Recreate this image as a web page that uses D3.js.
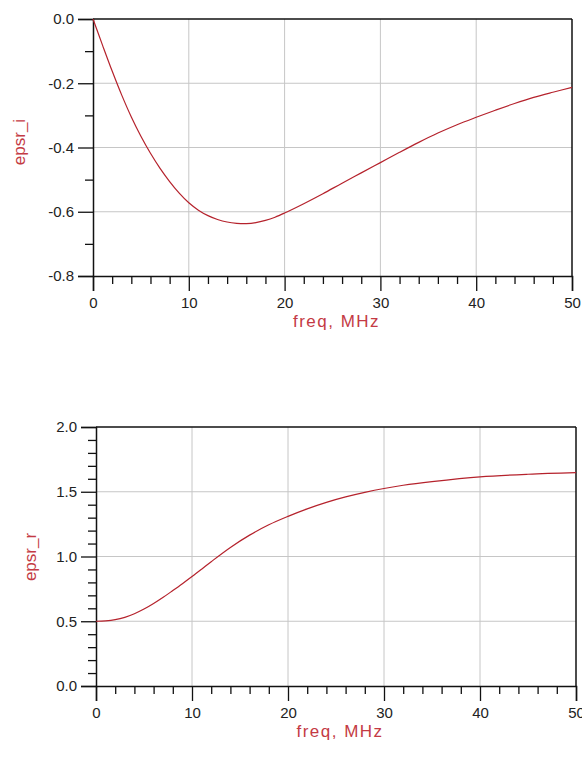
<!DOCTYPE html>
<html>
<head>
<meta charset="utf-8">
<script src="https://cdn.jsdelivr.net/npm/d3@7"></script>
<style>
  html, body { margin: 0; padding: 0; background: #fff; }
  svg { display: block; }
  .tick text { font-family: "Liberation Sans", Arial, sans-serif; font-size: 15px; fill: #222; }
</style>
</head>
<body>
<svg id="chart" width="582" height="764"></svg>
<script>
// ---- data ----
const freqI = [0,1,2,3,4,5,6,7,8,9,10,11,12,13,14,15,16,17,18,19,20,22,24,26,28,30,32,34,36,38,40,42,44,46,48,50];
const epsrI = [0,-0.082,-0.162,-0.237,-0.305,-0.365,-0.418,-0.465,-0.506,-0.542,-0.572,-0.595,-0.612,-0.624,-0.632,-0.636,-0.637,-0.634,-0.627,-0.617,-0.604,-0.575,-0.544,-0.511,-0.479,-0.447,-0.415,-0.384,-0.355,-0.329,-0.306,-0.284,-0.263,-0.244,-0.228,-0.213];

const freqR = [0,1,2,3,4,5,6,7,8,9,10,11,12,14,16,18,20,22,24,26,28,30,32,35,40,45,50];
const epsrR = [0.5,0.503,0.512,0.53,0.558,0.594,0.637,0.685,0.737,0.79,0.845,0.902,0.96,1.07,1.165,1.245,1.31,1.368,1.418,1.46,1.495,1.525,1.55,1.578,1.615,1.635,1.647];

const xMajorTicks = [0,10,20,30,40,50];
const xMinorTicks = [2,4,6,8,12,14,16,18,22,24,26,28,32,34,36,38,42,44,46,48];
const yMajorTicksI = [0,-0.2,-0.4,-0.6,-0.8];
const yMinorTicksI = [-0.1,-0.3,-0.5,-0.7];
const yMajorTicksR = [0,0.5,1.0,1.5,2.0];
const yMinorTicksR = [0.1,0.2,0.3,0.4,0.6,0.7,0.8,0.9,1.1,1.2,1.3,1.4,1.6,1.7,1.8,1.9];

const xTitle = "freq, MHz";
const yTitleI = "epsr_i";
const yTitleR = "epsr_r";

// ---- drawing ----
const svg = d3.select("#chart");
const LINE = "#b5222c";
const TITLE = "#c43a44";
const GRID = "#c6c6c6";
const fmtY = d => (Math.abs(d) < 1e-9 ? 0 : d).toFixed(1);

function panel(cfg) {
  const x = d3.scaleLinear().domain([0, 50]).range([cfg.left, cfg.right]);
  const y = d3.scaleLinear().domain(cfg.yDomain).range([cfg.bottom, cfg.top]);
  const g = svg.append("g");

  // grid
  g.append("g").selectAll("line").data(xMajorTicks.slice(1, -1)).join("line")
    .attr("x1", d => x(d)).attr("x2", d => x(d))
    .attr("y1", cfg.top).attr("y2", cfg.bottom)
    .attr("stroke", GRID).attr("stroke-width", 1);
  g.append("g").selectAll("line").data(cfg.yMajor.filter(v => v !== cfg.yDomain[0] && v !== cfg.yDomain[1])).join("line")
    .attr("x1", cfg.left).attr("x2", cfg.right)
    .attr("y1", d => y(d)).attr("y2", d => y(d))
    .attr("stroke", GRID).attr("stroke-width", 1);

  // frame (top and right)
  g.append("line").attr("x1", cfg.left).attr("x2", cfg.right).attr("y1", cfg.top).attr("y2", cfg.top)
    .attr("stroke", "#111").attr("stroke-width", 1.5);
  g.append("line").attr("x1", cfg.right).attr("x2", cfg.right).attr("y1", cfg.top).attr("y2", cfg.bottom)
    .attr("stroke", "#111").attr("stroke-width", 1.5);

  // x axis
  const xa = g.append("g").attr("transform", `translate(0,${cfg.bottom})`)
    .call(d3.axisBottom(x).tickValues(xMajorTicks).tickSize(15).tickPadding(6).tickFormat(d3.format("d")));
  g.append("g").attr("transform", `translate(0,${cfg.bottom})`)
    .call(d3.axisBottom(x).tickValues(xMinorTicks).tickSize(8).tickFormat(""))
    .call(s => s.select(".domain").remove());
  // y axis
  g.append("g").attr("transform", `translate(${cfg.left},0)`)
    .call(d3.axisLeft(y).tickValues(cfg.yMajor).tickSize(15).tickPadding(4).tickFormat(fmtY));
  g.append("g").attr("transform", `translate(${cfg.left},0)`)
    .call(d3.axisLeft(y).tickValues(cfg.yMinor).tickSize(8).tickFormat(""))
    .call(s => s.select(".domain").remove());

  g.selectAll(".domain").attr("stroke", "#111").attr("stroke-width", 1.5);
  g.selectAll(".tick line").attr("stroke", "#111").attr("stroke-width", 1.3);
  xa.selectAll(".tick text").attr("y", 21).attr("dy", "0.71em");

  // line
  const data = cfg.xs.map((f, i) => [f, cfg.ys[i]]);
  g.append("path").datum(data)
    .attr("fill", "none").attr("stroke", LINE).attr("stroke-width", 1.2)
    .attr("d", d3.line().x(d => x(d[0])).y(d => y(d[1])).curve(d3.curveCatmullRom.alpha(0.5)));

  // titles
  g.append("text").attr("x", (cfg.left + cfg.right) / 2 + 4).attr("y", cfg.bottom + 51)
    .attr("text-anchor", "middle").attr("fill", TITLE)
    .attr("font-family", "Liberation Sans, Arial, sans-serif").attr("font-size", 17)
    .attr("letter-spacing", 1.5)
    .text(xTitle);
  g.append("text")
    .attr("transform", `translate(${cfg.yTitleX},${cfg.yTitleY}) rotate(-90)`)
    .attr("text-anchor", "middle").attr("dy", "0.35em").attr("fill", TITLE)
    .attr("font-family", "Liberation Sans, Arial, sans-serif").attr("font-size", 17)
    .text(cfg.yTitle);
}

panel({ left: 93, right: 572, top: 19, bottom: 276, yDomain: [-0.8, 0],
  yMajor: yMajorTicksI, yMinor: yMinorTicksI, xs: freqI, ys: epsrI,
  yTitle: yTitleI, yTitleX: 19, yTitleY: 142 });

panel({ left: 96, right: 576, top: 427, bottom: 686, yDomain: [0, 2],
  yMajor: yMajorTicksR, yMinor: yMinorTicksR, xs: freqR, ys: epsrR,
  yTitle: yTitleR, yTitleX: 30, yTitleY: 557 });
</script>
</body>
</html>
